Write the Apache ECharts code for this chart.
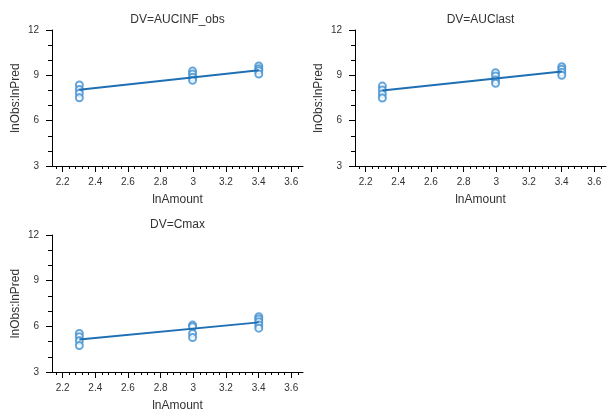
<!DOCTYPE html>
<html><head><meta charset="utf-8">
<script src="https://cdn.jsdelivr.net/npm/echarts@6/dist/echarts.min.js"></script>
<style>html,body{margin:0;padding:0;background:#fff}#c{width:611px;height:414px}</style>
</head><body><div id="c"></div>
<script>
var panelTitles = ['DV=AUCINF_obs', 'DV=AUClast', 'DV=Cmax'];
var doseX = [2.302585, 2.995732, 3.401197];
// observed points per panel: [x, y]
var ptsAUCINF = [
  [2.302585, 8.36], [2.302585, 8.07], [2.302585, 7.81], [2.302585, 7.52],
  [2.995732, 9.28], [2.995732, 9.09], [2.995732, 8.87], [2.995732, 8.67],
  [3.401197, 9.62], [3.401197, 9.44], [3.401197, 9.31], [3.401197, 9.09]
];
var ptsAUClast = [
  [2.302585, 8.29], [2.302585, 8.03], [2.302585, 7.76], [2.302585, 7.50],
  [2.995732, 9.17], [2.995732, 8.95], [2.995732, 8.69], [2.995732, 8.47],
  [3.401197, 9.57], [3.401197, 9.40], [3.401197, 9.20], [3.401197, 9.00]
];
var ptsCmax = [
  [2.302585, 5.53], [2.302585, 5.31], [2.302585, 5.05], [2.302585, 4.74],
  [2.995732, 6.08], [2.995732, 5.97], [2.995732, 5.53], [2.995732, 5.27],
  [3.401197, 6.63], [3.401197, 6.48], [3.401197, 6.30], [3.401197, 6.08], [3.401197, 5.88]
];
// fitted line values at first and last dose
var fitAUCINF = [[2.302585, 8.05], [3.401197, 9.33]];
var fitAUClast = [[2.302585, 8.00], [3.401197, 9.26]];
var fitCmax = [[2.302585, 5.14], [3.401197, 6.26]];
var xMajorTicks = [2.2, 2.4, 2.6, 2.8, 3.0, 3.2, 3.4, 3.6];
var xMinorTicks = [];
for (var i = 0; i <= 37; i++) xMinorTicks.push(+(2.16 + i * 0.04).toFixed(2));
var yMin = 3, yMax = 12, yInterval = 3;

var grids = [
  {left: 52, top: 30, width: 251, height: 136},
  {left: 355, top: 30, width: 251, height: 136},
  {left: 52, top: 235, width: 251, height: 137}
];
var allPts = [ptsAUCINF, ptsAUClast, ptsCmax];
var allFit = [fitAUCINF, fitAUClast, fitCmax];
var font = 'Liberation Sans, Arial, sans-serif';
var txt = '#333';

var option = {animation: false, backgroundColor: '#fff', title: [], grid: grids, xAxis: [], yAxis: [], series: []};
grids.forEach(function (g, k) {
  option.title.push({
    text: panelTitles[k], left: g.left + g.width / 2, top: g.top - 16, textAlign: 'center', padding: 0,
    textStyle: {fontFamily: font, fontSize: 12, fontWeight: 'normal', color: txt}
  });
  var xmin = 2.135, xmax = 3.672;
  option.xAxis.push({
    type: 'value', gridIndex: k, min: xmin, max: xmax, position: 'bottom',
    name: 'lnAmount', nameLocation: 'middle', nameGap: 28,
    nameTextStyle: {fontFamily: font, fontSize: 12, color: txt},
    axisLine: {show: true, onZero: false, lineStyle: {color: '#000', width: 1}},
    axisTick: {show: true, length: 6, customValues: xMajorTicks, lineStyle: {color: '#000'}},
    axisLabel: {customValues: xMajorTicks, fontFamily: font, fontSize: 10, color: txt, margin: 11,
      formatter: function (v) { return String(+v.toFixed(1)); }},
    splitLine: {show: false}
  });
  option.xAxis.push({
    type: 'value', gridIndex: k, min: xmin, max: xmax, position: 'bottom', offset: 0,
    axisLine: {show: false, onZero: false},
    axisTick: {show: true, length: 3, customValues: xMinorTicks, lineStyle: {color: '#000'}},
    axisLabel: {show: false}, splitLine: {show: false}
  });
  option.yAxis.push({
    type: 'value', gridIndex: k, min: yMin, max: yMax, interval: yInterval,
    name: 'lnObs:lnPred', nameLocation: 'middle', nameGap: 30, nameRotate: 90,
    nameTextStyle: {fontFamily: font, fontSize: 12, color: txt},
    axisLine: {show: true, onZero: false, lineStyle: {color: '#000', width: 1}},
    axisTick: {show: true, length: 6, lineStyle: {color: '#000'}},
    minorTick: {show: true, splitNumber: 3, length: 4, lineStyle: {color: '#000'}},
    axisLabel: {fontFamily: font, fontSize: 10, color: txt, margin: 13},
    splitLine: {show: false}
  });
  option.series.push({
    type: 'scatter', xAxisIndex: 2 * k, yAxisIndex: k, data: allPts[k],
    symbol: 'emptyCircle', symbolSize: 7,
    itemStyle: {color: '#3d8fd1', borderColor: '#3d8fd1', borderWidth: 1}, z: 3
  });
  option.series.push({
    type: 'line', xAxisIndex: 2 * k, yAxisIndex: k, data: allFit[k],
    showSymbol: false, symbol: 'none', lineStyle: {color: '#1f6fb4', width: 2}, z: 4
  });
});
echarts.init(document.getElementById('c'), null, {renderer: 'canvas'}).setOption(option);
</script></body></html>
